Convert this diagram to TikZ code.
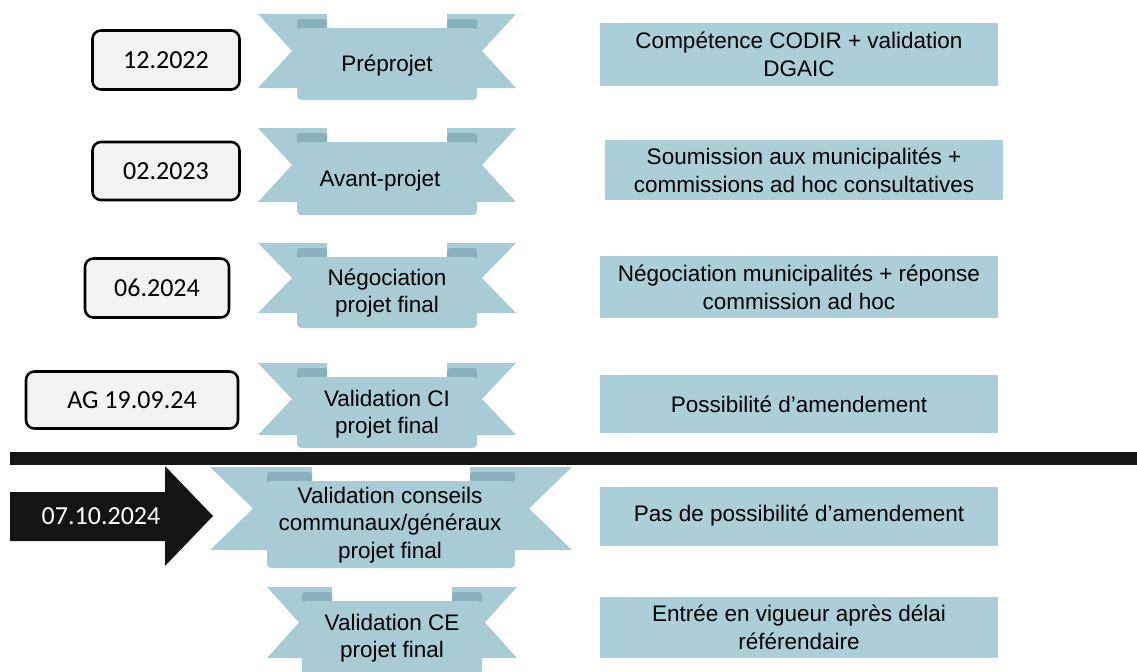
\documentclass[tikz,border=0pt]{standalone}
\usepackage{fontspec}
\setmainfont{Liberation Sans}
\newfontfamily\calibrifont{Carlito}
\definecolor{ribbonblue}{HTML}{A8CCD6}
\definecolor{ribbondark}{HTML}{88B1BD}
\definecolor{boxblue}{HTML}{ABCFD9}
\definecolor{dategray}{HTML}{F3F3F3}
\newcommand*{\pxu}{0.025cm}
% #1 centre x, #2 top, #3 tail half width, #4 band half width,
% #5 tail bottom, #6 band bottom, #7 notch depth, #8 curl width
\newcommand{\ribbon}[8]{%
	\fill[ribbonblue] ({#1-#3},#2) -- ({#1-#4+#8},#2) -- ({#1-#4+#8},#5) -- ({#1-#3},#5) -- ({#1-#3+#7},{(#2+#5)/2}) -- cycle;
	\fill[ribbonblue] ({#1+#3},#2) -- ({#1+#4-#8},#2) -- ({#1+#4-#8},#5) -- ({#1+#3},#5) -- ({#1+#3-#7},{(#2+#5)/2}) -- cycle;
	\fill[ribbondark,rounded corners=2pt] ({#1-#4},{#2+16}) -- ({#1-#4},{#2+5}) -- ({#1-#4+#8},{#2+5}) -- ({#1-#4+#8},{#2+16}) -- cycle;
	\fill[ribbondark,rounded corners=2pt] ({#1+#4},{#2+16}) -- ({#1+#4},{#2+5}) -- ({#1+#4-#8},{#2+5}) -- ({#1+#4-#8},{#2+16}) -- cycle;
	\fill[ribbonblue,rounded corners=3pt] ({#1-#4},{#2+14}) rectangle ({#1+#4},#6);
}
\tikzset{
	datebox/.style={draw=black,line width=1.8pt,rounded corners=6pt,fill=dategray,inner sep=0pt,
		font=\calibrifont\fontsize{18.5}{22}\selectfont},
	stepbox/.style={fill=boxblue,inner sep=0pt,align=center,minimum width={398*\pxu},
		font=\fontsize{16}{20}\selectfont},
	ribbontext/.style={inner sep=0pt,align=center,font=\fontsize{16}{19.5}\selectfont},
}
\begin{document}
\begin{tikzpicture}[x=0.025cm,y=-0.025cm]
	\useasboundingbox (0,0) rectangle (1137,671);
	
	\coordinate (Date1) at (166,60);
	\coordinate (Date2) at (166,171);
	\coordinate (Date3) at (157,288);
	\coordinate (Date4) at (132,400);
	
	\node[datebox,minimum width={147*\pxu},minimum height={59*\pxu}] (d1) at (Date1) {12.2022};
	\node[datebox,minimum width={147*\pxu},minimum height={58*\pxu}] (d2) at (Date2) {02.2023};
	\node[datebox,minimum width={144*\pxu},minimum height={59*\pxu}] (d3) at (Date3) {06.2024};
	\node[datebox,minimum width={212*\pxu},minimum height={57*\pxu}] (d4) at (Date4) {AG 19.09.24};
	
	% the ribbons
	\ribbon{387}{14}{129}{90}{88}{100}{34}{30}
	\ribbon{387}{128}{129}{90}{202}{215}{34}{30}
	\ribbon{387}{243}{129}{90}{313}{328}{34}{30}
	\ribbon{387}{363}{129}{90}{435}{448}{34}{30}
	\ribbon{391}{467}{181}{124}{550}{568}{43}{45}
	\ribbon{392}{587}{125}{90}{658}{680}{32}{30}
	
	\node[ribbontext] (r1) at (387,66) {Préprojet};
	\node[ribbontext] (r2) at (380,181) {Avant-projet};
	\node[ribbontext] (r3) at (387,293) {Négociation\\projet final};
	\node[ribbontext] (r4) at (387,414) {Validation CI\\projet final};
	\node[ribbontext] (r5) at (390,525) {Validation conseils\\communaux/généraux\\projet final};
	\node[ribbontext] (r6) at (392,638) {Validation CE\\projet final};
	
	\node[stepbox,minimum height={63*\pxu}] (b1) at (799,54) {Compétence CODIR + validation\\DGAIC};
	\node[stepbox,minimum height={60*\pxu}] (b2) at (804,170) {Soumission aux municipalités +\\commissions ad hoc consultatives};
	\node[stepbox,minimum height={62*\pxu}] (b3) at (799,287) {Négociation municipalités + réponse\\commission ad hoc};
	\node[stepbox,minimum height={58*\pxu}] (b4) at (799,404) {Possibilité d’amendement};
	\node[stepbox,minimum height={59*\pxu}] (b5) at (799,516) {Pas de possibilité d’amendement};
	\node[stepbox,minimum height={61*\pxu}] (b6) at (799,627) {Entrée en vigueur après délai\\référendaire};
	
	% dividing bar
	\fill[black!92] (10,452) rectangle (1137,465);
	
	\fill[black!92] (10,492) -- (165,492) -- (165,466) -- (213,516) -- (165,566) -- (165,541) -- (10,541) -- cycle;
	\node[inner sep=0pt,text=white,font=\calibrifont\fontsize{18.5}{22}\selectfont] (d5) at (101,516) {07.10.2024};
	
\end{tikzpicture}
\end{document}
